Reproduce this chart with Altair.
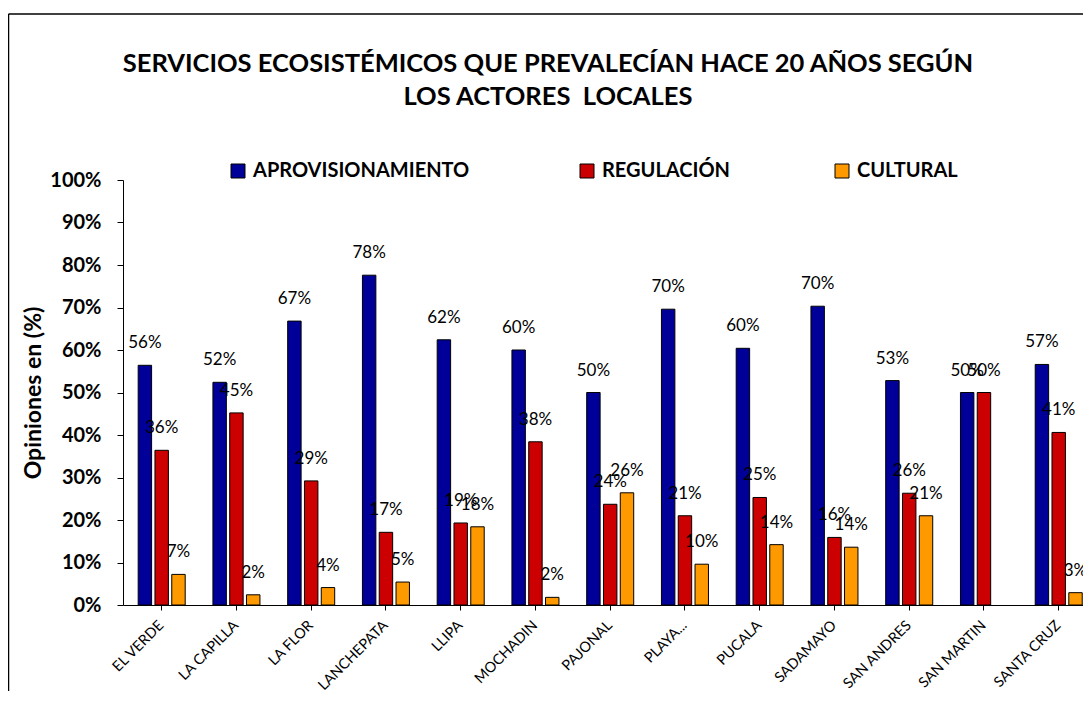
import altair as alt
import pandas as pd

# ---- data ----
sites = ["EL VERDE", "LA CAPILLA", "LA FLOR", "LANCHEPATA", "LLIPA", "MOCHADIN",
         "PAJONAL", "PLAYA...", "PUCALA", "SADAMAYO", "SAN ANDRES", "SAN MARTIN",
         "SANTA CRUZ"]
aprovisionamiento = [0.564, 0.524, 0.668, 0.776, 0.624, 0.600, 0.500, 0.696, 0.604,
                     0.703, 0.528, 0.500, 0.566]
regulacion = [0.364, 0.452, 0.292, 0.171, 0.193, 0.384, 0.237, 0.210, 0.253,
              0.159, 0.263, 0.500, 0.406]
cultural = [0.072, 0.024, 0.041, 0.054, 0.184, 0.018, 0.264, 0.096, 0.142,
            0.136, 0.210, 0.0, 0.029]
series_names = ["APROVISIONAMIENTO", "REGULACIÓN", "CULTURAL"]
series_colors = ["#000099", "#CC0000", "#FF9900"]
y_ticks = [0, 0.1, 0.2, 0.3, 0.4, 0.5, 0.6, 0.7, 0.8, 0.9, 1.0]

rows = []
for i, s in enumerate(sites):
    for name, vals in zip(series_names, [aprovisionamiento, regulacion, cultural]):
        rows.append({"site": s, "serie": name, "valor": vals[i]})
df = pd.DataFrame(rows)

FONT = "Lato"

x_enc = alt.X(
    "site:N",
    sort=sites,
    scale=alt.Scale(domain=sites, range=[0, 974.4], paddingInner=0.371, paddingOuter=0.203),
    axis=alt.Axis(
        title=None,
        labelAngle=315,
        labelAlign="right",
        labelBaseline="middle",
        labelFont=FONT,
        labelFontSize=14.5,
        labelColor="black",
        labelPadding=13,
        tickSize=5,
        tickColor="black",
        domainColor="black",
        labelOverlap=False,
        labelLimit=300,
    ),
)
xo_enc = alt.XOffset(
    "serie:N",
    sort=series_names,
    scale=alt.Scale(domain=series_names, paddingInner=0.2, paddingOuter=0),
)
y_enc = alt.Y(
    "valor:Q",
    scale=alt.Scale(domain=[0, 1]),
    axis=alt.Axis(
        values=y_ticks,
        format=".0%",
        grid=False,
        labelFont=FONT,
        labelFontSize=20,
        labelFontWeight="bold",
        labelColor="black",
        labelPadding=16,
        tickSize=6,
        tickColor="black",
        domainColor="black",
        title="Opiniones en (%)",
        titleFont=FONT,
        titleFontSize=23,
        titleFontWeight="bold",
        titleColor="black",
        titleAngle=270,
        titleAlign="center",
        titleBaseline="middle",
        titleX=-90,
        titleY=212.5,
    ),
)

legend_x = [105, 454, 709]
layers = []
for name, col, lx in zip(series_names, series_colors, legend_x):
    bars = (
        alt.Chart(df)
        .transform_filter(alt.datum.serie == name)
        .transform_filter(alt.datum.valor > 0)
        .mark_bar(stroke="black", strokeWidth=1)
        .encode(
            x=x_enc,
            xOffset=xo_enc,
            y=y_enc,
            color=alt.Color(
                "serie:N",
                scale=alt.Scale(domain=[name], range=[col]),
                legend=alt.Legend(
                    title=None,
                    orient="none",
                    legendX=lx,
                    legendY=-19,
                    padding=0,
                    symbolType="square",
                    symbolSize=196,
                    symbolStrokeColor="black",
                    symbolStrokeWidth=1,
                    labelFont=FONT,
                    labelFontSize=20,
                    labelFontWeight="bold",
                    labelColor="black",
                    labelOffset=5,
                    labelLimit=400,
                ),
            ),
        )
    )
    layers.append(bars)

labels = (
    alt.Chart(df)
    .transform_filter(alt.datum.valor > 0)
    .mark_text(font=FONT, fontSize=17, baseline="alphabetic", dy=-17, color="black")
    .encode(x=x_enc, xOffset=xo_enc, y=y_enc, text=alt.Text("valor:Q", format=".0%"))
)
layers.append(labels)

frame_df = pd.DataFrame({"k": [0]})
frame_left = alt.Chart(frame_df).mark_rule(color="black", strokeWidth=1.5).encode(
    x=alt.value(-114.5), y=alt.value(-166), y2=alt.value(600)
)
frame_top = alt.Chart(frame_df).mark_rule(color="black", strokeWidth=1.5).encode(
    x=alt.value(-114.5), x2=alt.value(1100), y=alt.value(-166)
)
layers += [frame_left, frame_top]

chart = (
    alt.layer(*layers)
    .resolve_scale(color="independent")
    .properties(
        width=960,
        height=425,
        autosize="none",
        padding={"left": 115, "top": 172, "right": 0, "bottom": 86},
        background="white",
        title=alt.Title(
            ["SERVICIOS ECOSISTÉMICOS QUE PREVALECÍAN HACE 20 AÑOS SEGÚN",
             "LOS ACTORES\u00a0 LOCALES"],
            font=FONT,
            fontSize=25.5,
            fontWeight="bold",
            color="black",
            anchor="middle",
            frame="group",
            dx=-55,
            dy=168,
            offset=71,
            lineHeight=33,
        ),
    )
    .configure_view(stroke=None)
)

chart.save("out.html", embed_options={"renderer": "svg", "actions": False})
